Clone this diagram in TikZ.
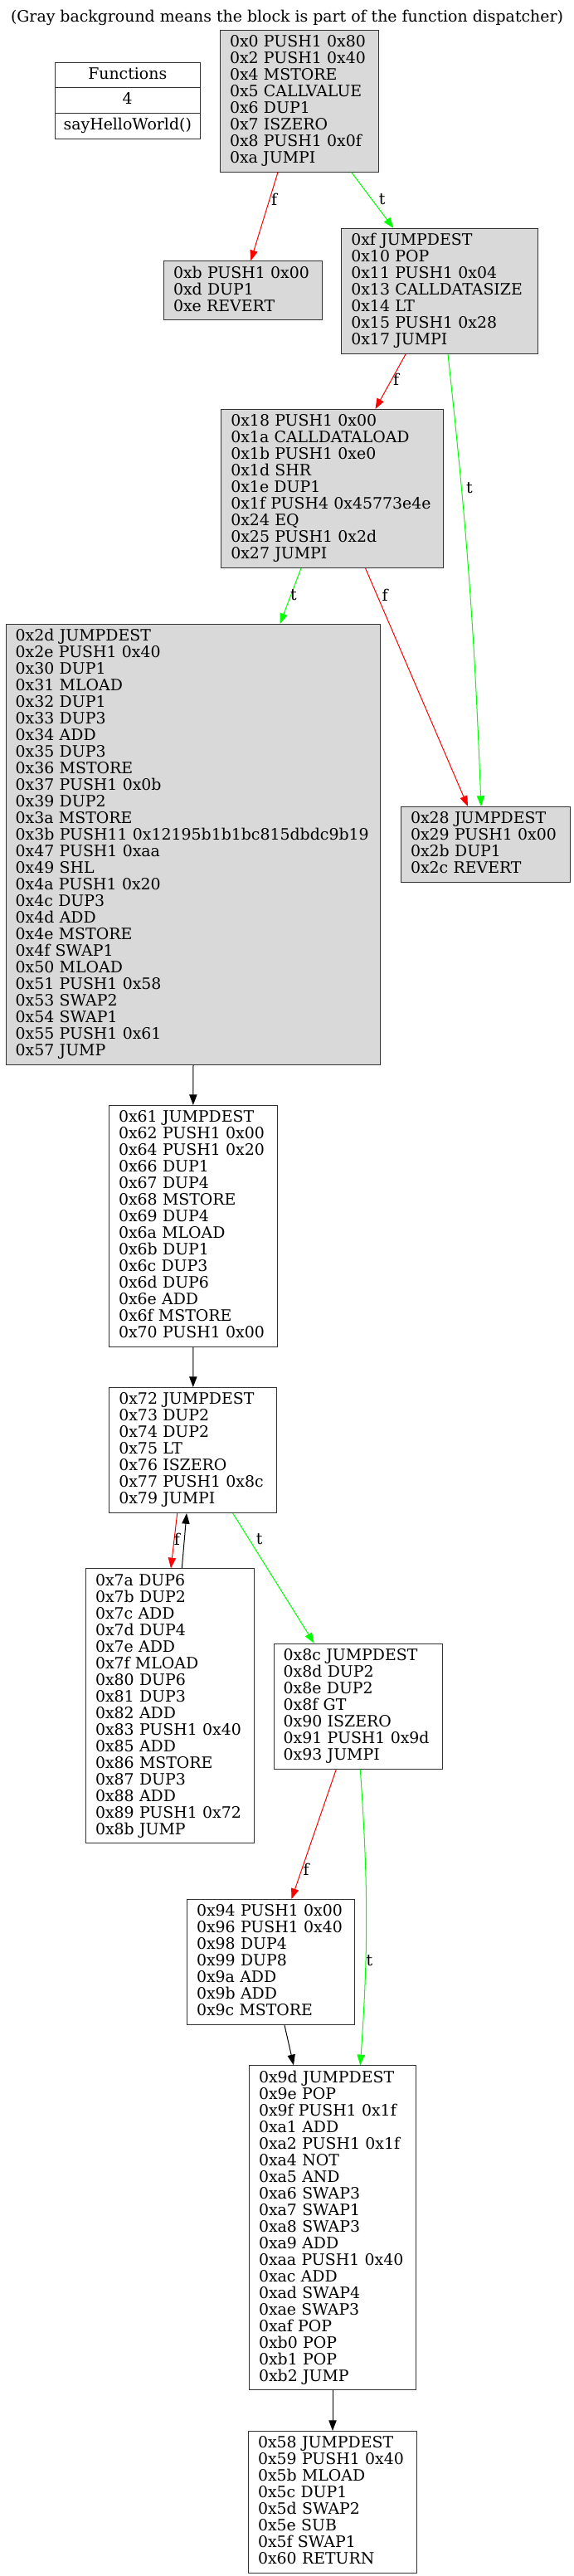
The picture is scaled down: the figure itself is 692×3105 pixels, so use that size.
\documentclass[tikz,border=0pt]{standalone}
\usepackage{fontspec}
\setmainfont{DejaVu Serif}
\usetikzlibrary{arrows.meta, positioning}
\definecolor{dispatch}{HTML}{D9D9D9}
\definecolor{jumpt}{HTML}{00FF00}
\definecolor{jumpf}{HTML}{FF0000}
\newcommand{\opstrut}{\rule[-5.2pt]{0pt}{20pt}}

\begin{document}
\begin{tikzpicture}[x=1pt, y=-1pt,
  font=\fontsize{18.9}{20}\selectfont,
  block/.style={draw=black!80, line width=1pt, anchor=north west,
                align=left, inner xsep=11.5pt, inner ysep=0pt,
                execute at begin node=\opstrut, execute at end node=\opstrut},
  disp/.style={block, fill=dispatch},
  fnrow/.style={draw=black!80, line width=1pt, minimum width=174.5pt,
                minimum height=30.7pt, inner sep=0pt, outer sep=0pt, align=center,
                execute at begin node=\opstrut},
  elabel/.style={inner sep=0pt},
  tip/.style={-{Triangle[length=12.7pt, width=9.3pt]}, line width=1pt},
  tedge/.style={tip, draw=jumpt},
  fedge/.style={tip, draw=jumpf},
  jedge/.style={tip, draw=black},
]
\useasboundingbox (0,0) rectangle (692,3105);

\node[anchor=base] (title) at (346, 26) {(Gray background means the block is part of the function dispatcher)};

\node[fnrow, anchor=north west] (fnhead) at (66.5, 75) {Functions};
\node[fnrow, below=0pt of fnhead] (fncount) {4};
\node[fnrow, below=0pt of fncount] (fnname) {sayHelloWorld()};

\node[disp, text width=168pt, minimum height=171pt] (b0) at (265, 35.7) {0x0 PUSH1 0x80\\0x2 PUSH1 0x40\\0x4 MSTORE\\0x5 CALLVALUE\\0x6 DUP1\\0x7 ISZERO\\0x8 PUSH1 0x0f\\0xa JUMPI};
\node[disp, text width=167.7pt, minimum height=71pt] (bb) at (197, 314.3) {0xb PUSH1 0x00\\0xd DUP1\\0xe REVERT};
\node[disp, text width=213.7pt, minimum height=151pt] (bf) at (411.3, 275) {0xf JUMPDEST\\0x10 POP\\0x11 PUSH1 0x04\\0x13 CALLDATASIZE\\0x14 LT\\0x15 PUSH1 0x28\\0x17 JUMPI};
\node[disp, text width=244.7pt, minimum height=191pt] (b18) at (266.3, 493) {0x18 PUSH1 0x00\\0x1a CALLDATALOAD\\0x1b PUSH1 0xe0\\0x1d SHR\\0x1e DUP1\\0x1f PUSH4 0x45773e4e\\0x24 EQ\\0x25 PUSH1 0x2d\\0x27 JUMPI};
\node[disp, text width=428.6pt, minimum height=531pt] (b2d) at (6.7, 752) {0x2d JUMPDEST\\0x2e PUSH1 0x40\\0x30 DUP1\\0x31 MLOAD\\0x32 DUP1\\0x33 DUP3\\0x34 ADD\\0x35 DUP3\\0x36 MSTORE\\0x37 PUSH1 0x0b\\0x39 DUP2\\0x3a MSTORE\\0x3b PUSH11 0x12195b1b1bc815dbdc9b19\\0x47 PUSH1 0xaa\\0x49 SHL\\0x4a PUSH1 0x20\\0x4c DUP3\\0x4d ADD\\0x4e MSTORE\\0x4f SWAP1\\0x50 MLOAD\\0x51 PUSH1 0x58\\0x53 SWAP2\\0x54 SWAP1\\0x55 PUSH1 0x61\\0x57 JUMP};
\node[disp, text width=181pt, minimum height=91pt] (b28) at (483, 972) {0x28 JUMPDEST\\0x29 PUSH1 0x00\\0x2b DUP1\\0x2c REVERT};
\node[block, text width=179.7pt, minimum height=291pt] (b61) at (131, 1332) {0x61 JUMPDEST\\0x62 PUSH1 0x00\\0x64 PUSH1 0x20\\0x66 DUP1\\0x67 DUP4\\0x68 MSTORE\\0x69 DUP4\\0x6a MLOAD\\0x6b DUP1\\0x6c DUP3\\0x6d DUP6\\0x6e ADD\\0x6f MSTORE\\0x70 PUSH1 0x00};
\node[block, text width=179pt, minimum height=151pt] (b72) at (131.3, 1672) {0x72 JUMPDEST\\0x73 DUP2\\0x74 DUP2\\0x75 LT\\0x76 ISZERO\\0x77 PUSH1 0x8c\\0x79 JUMPI};
\node[block, text width=180pt, minimum height=331pt] (b7a) at (103, 1890.3) {0x7a DUP6\\0x7b DUP2\\0x7c ADD\\0x7d DUP4\\0x7e ADD\\0x7f MLOAD\\0x80 DUP6\\0x81 DUP3\\0x82 ADD\\0x83 PUSH1 0x40\\0x85 ADD\\0x86 MSTORE\\0x87 DUP3\\0x88 ADD\\0x89 PUSH1 0x72\\0x8b JUMP};
\node[block, text width=180pt, minimum height=151pt] (b8c) at (329.7, 1980.7) {0x8c JUMPDEST\\0x8d DUP2\\0x8e DUP2\\0x8f GT\\0x90 ISZERO\\0x91 PUSH1 0x9d\\0x93 JUMPI};
\node[block, text width=179pt, minimum height=151pt] (b94) at (225, 2289) {0x94 PUSH1 0x00\\0x96 PUSH1 0x40\\0x98 DUP4\\0x99 DUP8\\0x9a ADD\\0x9b ADD\\0x9c MSTORE};
\node[block, text width=178pt, minimum height=391pt] (b9d) at (300, 2489.3) {0x9d JUMPDEST\\0x9e POP\\0x9f PUSH1 0x1f\\0xa1 ADD\\0xa2 PUSH1 0x1f\\0xa4 NOT\\0xa5 AND\\0xa6 SWAP3\\0xa7 SWAP1\\0xa8 SWAP3\\0xa9 ADD\\0xaa PUSH1 0x40\\0xac ADD\\0xad SWAP4\\0xae SWAP3\\0xaf POP\\0xb0 POP\\0xb1 POP\\0xb2 JUMP};
\node[block, text width=180pt, minimum height=171pt] (b58) at (299, 2930) {0x58 JUMPDEST\\0x59 PUSH1 0x40\\0x5b MLOAD\\0x5c DUP1\\0x5d SWAP2\\0x5e SUB\\0x5f SWAP1\\0x60 RETURN};

\draw[fedge] ([xshift=70pt]b0.south west) -- ([xshift=105.3pt]bb.north west);
\draw[tedge] ([xshift=158.7pt]b0.south west) -- ([xshift=63pt]bf.north west);
\draw[fedge] ([xshift=77.7pt]bf.south west) -- ([xshift=186.2pt]b18.north west);
\draw[tedge] ([xshift=128.7pt]bf.south west) to[bend left=2] ([xshift=97pt]b28.north west);
\draw[tedge] ([xshift=96.7pt]b18.south west) -- ([xshift=330.8pt]b2d.north west);
\draw[fedge] ([xshift=174.3pt]b18.south west) -- ([xshift=81pt]b28.north west);
\draw[jedge] (b2d.south) -- (b61.north);
\draw[jedge] (b61.south) -- (b72.north);
\draw[fedge] ([xshift=82.4pt]b72.south west) -- ([xshift=103pt]b7a.north west);
\draw[jedge] ([xshift=116.3pt]b7a.north west) -- ([xshift=93.7pt]b72.south west);
\draw[tedge] ([xshift=149.4pt]b72.south west) -- ([xshift=49pt]b8c.north west);
\draw[fedge] ([xshift=75.6pt]b8c.south west) -- ([xshift=126.5pt]b94.north west);
\draw[tedge] ([xshift=104.6pt]b8c.south west) to[bend left=4] ([xshift=134.3pt]b9d.north west);
\draw[jedge] ([xshift=118pt]b94.south west) -- ([xshift=54pt]b9d.north west);
\draw[jedge] (b9d.south) -- (b58.north);

\node[elabel] (lf1) at (330.7, 240) {f};
\node[elabel] (lt1) at (460.7, 240) {t};
\node[elabel] (lf2) at (477.5, 457) {f};
\node[elabel] (lt2) at (566, 588) {t};
\node[elabel] (lt3) at (354, 717) {t};
\node[elabel] (lf3) at (464, 717) {f};
\node[elabel] (lf4) at (213.3, 1855) {f};
\node[elabel] (lt4) at (312.7, 1855) {t};
\node[elabel] (lf5) at (369, 2253) {f};
\node[elabel] (lt5) at (445.5, 2363) {t};

\end{tikzpicture}
\end{document}
